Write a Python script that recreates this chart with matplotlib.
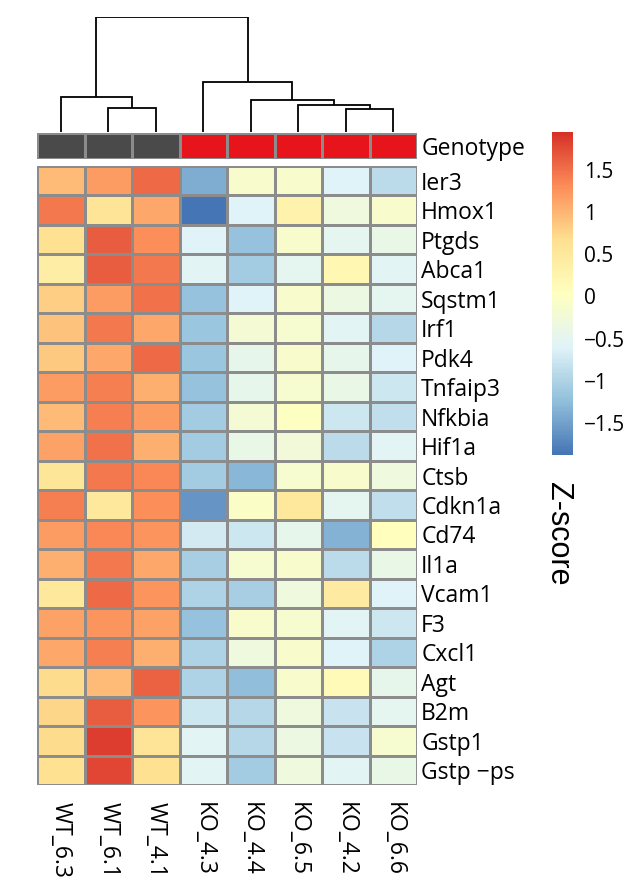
import matplotlib
matplotlib.use("Agg")
import matplotlib.pyplot as plt
import numpy as np
from matplotlib.colors import LinearSegmentedColormap, ListedColormap

# ---- data ----
samples = ["WT_6.3", "WT_6.1", "WT_4.1", "KO_4.3", "KO_4.4", "KO_6.5", "KO_4.2", "KO_6.6"]
genotype = ["WT", "WT", "WT", "KO", "KO", "KO", "KO", "KO"]
genes = ["Ier3", "Hmox1", "Ptgds", "Abca1", "Sqstm1", "Irf1", "Pdk4", "Tnfaip3",
         "Nfkbia", "Hif1a", "Ctsb", "Cdkn1a", "Cd74", "Il1a", "Vcam1", "F3",
         "Cxcl1", "Agt", "B2m", "Gstp1", "Gstp \u2212ps"]

zscores = [
    [0.95, 1.20, 1.55, -1.40, -0.10, -0.10, -0.60, -0.90],  # Ier3
    [1.45, 0.60, 1.10, -1.88, -0.60, 0.30, -0.30, -0.10],   # Hmox1
    [0.65, 1.65, 1.30, -0.60, -1.20, -0.10, -0.50, -0.40],  # Ptgds
    [0.40, 1.65, 1.45, -0.55, -1.10, -0.50, 0.20, -0.55],   # Abca1
    [0.80, 1.20, 1.50, -1.20, -0.60, -0.10, -0.35, -0.50],  # Sqstm1
    [0.90, 1.45, 1.10, -1.15, -0.20, -0.15, -0.55, -0.95],  # Irf1
    [0.85, 1.10, 1.55, -1.15, -0.45, -0.10, -0.45, -0.60],  # Pdk4
    [1.20, 1.40, 1.05, -1.20, -0.45, -0.15, -0.40, -0.75],  # Tnfaip3
    [0.95, 1.40, 1.20, -1.10, -0.20, 0.00, -0.75, -0.85],   # Nfkbia
    [1.15, 1.50, 1.05, -1.10, -0.40, -0.25, -0.90, -0.55],  # Hif1a
    [0.55, 1.45, 1.35, -1.10, -1.30, -0.15, -0.10, -0.30],  # Ctsb
    [1.40, 0.50, 1.30, -1.60, -0.05, 0.50, -0.50, -0.85],   # Cdkn1a
    [1.20, 1.35, 1.25, -0.70, -0.75, -0.45, -1.35, 0.05],   # Cd74
    [1.05, 1.45, 1.10, -1.05, -0.15, -0.10, -0.90, -0.40],  # Il1a
    [0.50, 1.55, 1.25, -1.00, -1.05, -0.30, 0.45, -0.60],   # Vcam1
    [1.15, 1.25, 1.15, -1.20, -0.10, -0.15, -0.55, -0.75],  # F3
    [1.10, 1.40, 1.05, -1.00, -0.30, -0.10, -0.60, -1.00],  # Cxcl1
    [0.70, 0.95, 1.60, -1.00, -1.25, -0.10, 0.15, -0.45],   # Agt
    [0.75, 1.65, 1.25, -0.75, -0.95, -0.30, -0.80, -0.50],  # B2m
    [0.70, 1.85, 0.60, -0.55, -0.95, -0.35, -0.80, -0.15],  # Gstp1
    [0.65, 1.80, 0.65, -0.55, -1.10, -0.30, -0.55, -0.40],  # Gstp-ps
]

# column dendrogram: (left child, right child, merge height); children are
# sample names or indices of earlier merges
col_merges = [
    ("WT_6.1", "WT_4.1", 24),
    ("WT_6.3", 0, 35),
    ("KO_4.2", "KO_6.6", 23),
    ("KO_6.5", 2, 27),
    ("KO_4.4", 3, 32),
    ("KO_4.3", 4, 50),
    (1, 5, 115),
]

cbar_ticks = [1.5, 1, 0.5, 0, -0.5, -1, -1.5]
zmin, zmax = -1.88, 1.95

# ---- styling ----
W, H = 633, 888
palette = ["#4575B4", "#91BFDB", "#E0F3F8", "#FFFFBF", "#FEE090", "#FC8D59", "#D73027"]
cmap = LinearSegmentedColormap.from_list("rdylbu7", palette, N=256)
geno_colors = {"WT": "#4a4a4a", "KO": "#e8141c"}
grid_col = "#8c8c8c"
label_font = "Open Sans"

fig = plt.figure(figsize=(W / 100, H / 100), dpi=100)


def box(x0, y0, x1, y1):
    """Pixel box (top-left origin) -> figure fraction rect."""
    return [x0 / W, 1 - y1 / H, (x1 - x0) / W, (y1 - y0) / H]


# heatmap
ax = fig.add_axes(box(37, 166, 417, 785))
Z = np.array(zscores)
ax.pcolormesh(Z, cmap=cmap, vmin=zmin, vmax=zmax, edgecolors=grid_col, linewidth=1.0)
ax.set_xlim(0, len(samples))
ax.set_ylim(len(genes), 0)
for s in ax.spines.values():
    s.set_visible(False)
ax.yaxis.tick_right()
ax.set_yticks(np.arange(len(genes)) + 0.5)
ax.set_yticklabels(genes, fontsize=16.5, family=label_font)
ax.set_xticks(np.arange(len(samples)) + 0.5)
ax.set_xticklabels(samples, rotation=270, fontsize=16.5, family=label_font)
ax.tick_params(axis="y", length=0, pad=3)
ax.tick_params(axis="x", length=0, pad=12)

# genotype annotation bar
axg = fig.add_axes(box(37, 133, 417, 159))
geno_cmap = ListedColormap([geno_colors["WT"], geno_colors["KO"]])
gvals = np.array([[0 if g == "WT" else 1 for g in genotype]])
axg.pcolormesh(gvals, cmap=geno_cmap, vmin=0, vmax=1, edgecolors=grid_col, linewidth=1.0)
axg.set_xlim(0, len(samples))
axg.set_ylim(1, 0)
for s in axg.spines.values():
    s.set_visible(False)
axg.set_xticks([])
axg.yaxis.tick_right()
axg.set_yticks([0.5])
axg.set_yticklabels(["Genotype"], fontsize=16.5, family=label_font)
axg.tick_params(axis="y", length=0, pad=3)

# column dendrogram
axd = fig.add_axes(box(37, 17, 417, 132))
pos = {name: i + 0.5 for i, name in enumerate(samples)}
hgt = {name: 0.0 for name in samples}
for k, (a, b, h) in enumerate(col_merges):
    xa, xb = pos[a], pos[b]
    ya, yb = hgt[a], hgt[b]
    axd.plot([xa, xa, xb, xb], [ya, h, h, yb], color="black", lw=1.3,
             solid_joinstyle="miter", solid_capstyle="butt")
    pos[k] = (xa + xb) / 2
    hgt[k] = h
axd.set_xlim(0, len(samples))
axd.set_ylim(0, max(m[2] for m in col_merges))
axd.axis("off")

# colour scale
cax = fig.add_axes(box(552, 132, 573, 455))
sm = plt.cm.ScalarMappable(cmap=cmap, norm=plt.Normalize(zmin, zmax))
cb = fig.colorbar(sm, cax=cax, ticks=cbar_ticks)
cb.outline.set_visible(False)
cb.ax.set_yticklabels([("%g" % t).replace("-", "\u2212") for t in cbar_ticks],
                      fontsize=15, family=label_font)
cb.ax.tick_params(length=0, pad=8)

fig.text(558 / W, 1 - 534 / H, "Z-score", rotation=270, ha="center", va="center",
         fontsize=22, family="Liberation Sans")

fig.savefig("out.png", dpi=100, facecolor="white")
